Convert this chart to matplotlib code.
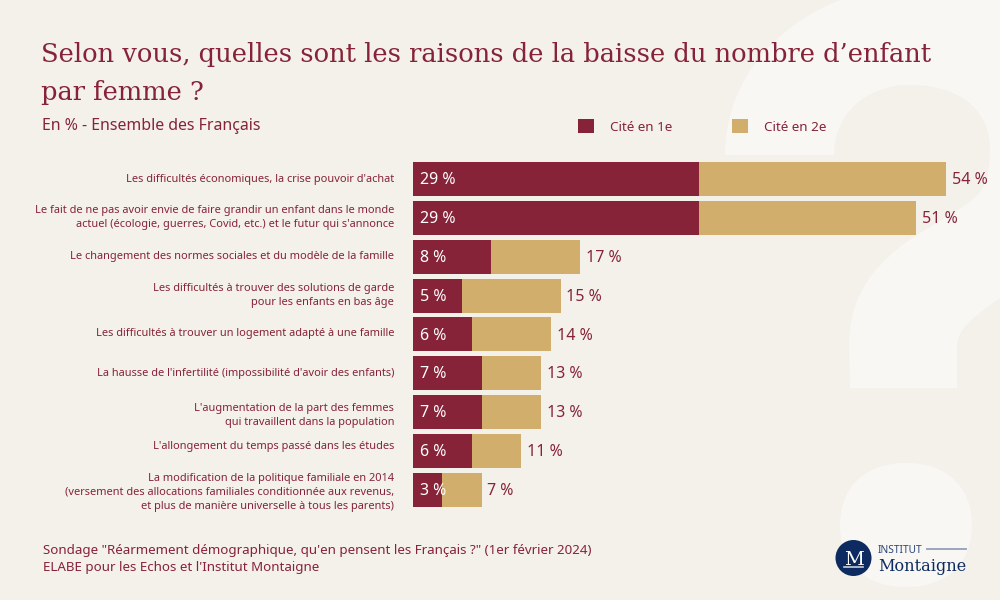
import matplotlib
matplotlib.use("Agg")
import matplotlib.pyplot as plt
from matplotlib.patches import Circle, PathPatch, Patch
from matplotlib.path import Path
from matplotlib.transforms import ScaledTranslation

categories = [
    "Les difficultés économiques, la crise pouvoir d'achat",
    "Le fait de ne pas avoir envie de faire grandir un enfant dans le monde\nactuel (écologie, guerres, Covid, etc.) et le futur qui s'annonce",
    "Le changement des normes sociales et du modèle de la famille",
    "Les difficultés à trouver des solutions de garde\npour les enfants en bas âge",
    "Les difficultés à trouver un logement adapté à une famille",
    "La hausse de l'infertilité (impossibilité d'avoir des enfants)",
    "L'augmentation de la part des femmes\nqui travaillent dans la population",
    "L'allongement du temps passé dans les études",
    "La modification de la politique familiale en 2014\n(versement des allocations familiales conditionnée aux revenus,\net plus de manière universelle à tous les parents)",
]
cite_1er = [29, 29, 8, 5, 6, 7, 7, 6, 3]
cite_total = [54, 51, 17, 15, 14, 13, 13, 11, 7]
cite_2e = [t - p for t, p in zip(cite_total, cite_1er)]

MAROON = "#862338"
GOLD = "#D1AE6B"
BG = "#F4F1EB"
LIGHT = "#F9F7F3"
NAVY = "#0D2B60"

plt.rcParams["font.family"] = ["Noto Sans", "DejaVu Sans"]

fig = plt.figure(figsize=(10, 6), dpi=100, facecolor=BG)

# fond : le grand point d'interrogation, en pixels de l'image
bg = fig.add_axes([0, 0, 1, 1], zorder=0)
bg.set_xlim(0, 1000)
bg.set_ylim(600, 0)
bg.axis("off")

verts = [
    (840, 0),
    (765, 30), (725, 90), (725, 155),
    (834, 155),
    (834, 115), (865, 85), (910, 85),
    (960, 85), (990, 110), (990, 150),
    (990, 175), (985, 190), (972, 200),
    (955, 213), (935, 223), (917, 235),
    (870, 265), (849, 300), (849, 345),
    (850, 388),
    (957, 388),
    (957, 345),
    (957, 330), (975, 315), (1000, 298),
    (1000, 0),
    (840, 0),
]
codes = [Path.MOVETO, Path.CURVE4, Path.CURVE4, Path.CURVE4, Path.LINETO,
         Path.CURVE4, Path.CURVE4, Path.CURVE4, Path.CURVE4, Path.CURVE4, Path.CURVE4,
         Path.CURVE4, Path.CURVE4, Path.CURVE4, Path.CURVE4, Path.CURVE4, Path.CURVE4,
         Path.CURVE4, Path.CURVE4, Path.CURVE4, Path.LINETO, Path.LINETO, Path.LINETO,
         Path.CURVE4, Path.CURVE4, Path.CURVE4, Path.LINETO, Path.CLOSEPOLY]
bg.add_patch(PathPatch(Path(verts, codes), fc=LIGHT, ec="none"))

dot_verts = [(906, 463), (950, 463), (972, 490), (972, 525),
             (972, 560), (950, 587), (906, 587),
             (862, 587), (840, 560), (840, 525),
             (840, 490), (862, 463), (906, 463)]
dot_codes = [Path.MOVETO] + [Path.CURVE4] * 12
bg.add_patch(PathPatch(Path(dot_verts, dot_codes), fc=LIGHT, ec="none"))

# titres
bg.text(41, 62, "Selon vous, quelles sont les raisons de la baisse du nombre d’enfant",
        family="DejaVu Serif", fontsize=18.57, color=MAROON, va="baseline")
bg.text(41, 100, "par femme ?", family="DejaVu Serif", fontsize=18.57, color=MAROON, va="baseline")
bg.text(42, 130, "En % - Ensemble des Français", fontsize=11.45, color=MAROON, va="baseline")

# source
bg.text(43, 554, "Sondage \"Réarmement démographique, qu'en pensent les Français ?\" (1er février 2024)",
        fontsize=9.6, color=MAROON, va="baseline")
bg.text(43, 571, "ELABE pour les Echos et l'Institut Montaigne", fontsize=9.6, color=MAROON, va="baseline")

# logo
bg.add_patch(Circle((853.5, 558), 18, fc=NAVY, ec="none"))
bg.text(853.5, 565, "M", family="DejaVu Serif", fontsize=14, color="white", ha="center", va="baseline")
bg.plot([844, 863], [567, 567], color="#C9D0DF", lw=1.2)
bg.text(878, 553, "INSTITUT", fontsize=7.3, color="#2C4677", va="baseline")
bg.plot([927, 966], [549, 549], color="#9BA6BF", lw=1.4)
bg.text(878, 571, "Montaigne", family="DejaVu Serif", fontsize=11.6, color=NAVY, va="baseline")

# barres
ax = fig.add_axes([0.4125, 1 - 509.2 / 600, 0.5875, 349.6 / 600], zorder=1)
ax.patch.set_alpha(0)
y = range(len(categories))
ax.barh(y, cite_1er, height=0.875, color=MAROON, edgecolor="none")
ax.barh(y, cite_2e, left=cite_1er, height=0.875, color=GOLD, edgecolor="none")
ax.set_xlim(0, 59.5)
ax.set_ylim(8.5, -0.5)
ax.set_xticks([])
ax.set_yticks(list(y))
ax.set_yticklabels(categories, fontsize=7.93, color=MAROON, linespacing=1.42, ma="right")
ax.tick_params(axis="y", length=0, pad=13.2)
for s in ax.spines.values():
    s.set_visible(False)

# les libellés ne sont pas tous centrés sur leur barre
label_shift = [1, 3.5, 2, 3.5, 2, 1.5, 0, 6, 0.5]
for lab, dy in zip(ax.get_yticklabels(), label_shift):
    lab.set_transform(lab.get_transform() + ScaledTranslation(0, dy / 100, fig.dpi_scale_trans))

for i, (a, t) in enumerate(zip(cite_1er, cite_total)):
    ax.annotate(f"{a} %", (0, i), xytext=(5.3, -0.8), textcoords="offset points",
                color="white", fontsize=11.5, va="center")
    ax.annotate(f"{t} %", (t, i), xytext=(4.2, -0.8), textcoords="offset points",
                color=MAROON, fontsize=11.5, va="center")

handles = [Patch(fc=MAROON, label="Cité en 1e"), Patch(fc=GOLD, label="Cité en 2e")]
fig.legend(handles=handles, ncols=2, loc="upper left", bbox_to_anchor=(0.578, 1 - 119.5 / 600),
           frameon=False, fontsize=9.7, labelcolor=MAROON, borderpad=0, borderaxespad=0,
           handlelength=1.19, handleheight=1.19, handletextpad=1.19, columnspacing=4.4)

fig.savefig("out.png", dpi=100, facecolor=BG)
